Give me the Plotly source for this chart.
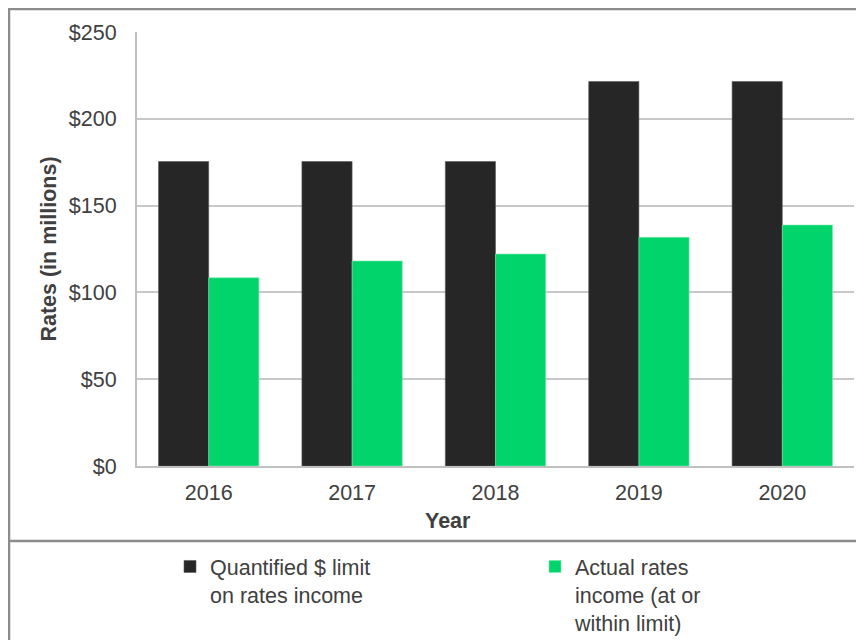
import plotly.graph_objects as go

years = ["2016", "2017", "2018", "2019", "2020"]
limit_values = [175.4, 175.4, 175.4, 221.5, 221.5]
actual_values = [108.4, 118.1, 122.1, 131.7, 138.8]
series_names = ["Quantified $ limit<br>on rates income", "Actual rates<br>income (at or<br>within limit)"]
y_tickvals = [0, 50, 100, 150, 200, 250]
y_ticktext = ["$0", "$50", "$100", "$150", "$200", "$250"]

FONT = "Liberation Sans, Arial, sans-serif"
TXT = "#404040"
FS = 21.5

fig = go.Figure()
fig.add_trace(go.Bar(x=years, y=limit_values, name=series_names[0], legend="legend",
                     marker=dict(color="#262626", line=dict(color="#5a5a5a", width=0.6))))
fig.add_trace(go.Bar(x=years, y=actual_values, name=series_names[1], legend="legend2",
                     marker=dict(color="#00d46a", line=dict(color="#7fe8b0", width=0.6))))

# page offset (browser body margin)
OFF = 8
W, H = 864 - OFF, 640 - OFF
# desired plot area in page pixels: x 137..854, y 32..466
L = 137 - OFF
T = 32 - OFF
R = W - (854 - OFF)
B = H - (466 - OFF)
pw, ph = W - L - R, H - T - B

def px2x(px):  # page px -> paper x
    return (px - OFF - L) / pw

def py2y(py):  # page px -> paper y
    return (H - B - (py - OFF)) / ph

leg_common = dict(valign="top", font=dict(size=FS, color=TXT), bgcolor="rgba(0,0,0,0)",
                  yanchor="top", xanchor="left", itemwidth=30)

fig.update_layout(
    width=W, height=H,
    margin=dict(l=L, r=R, t=T, b=B, autoexpand=False),
    paper_bgcolor="white", plot_bgcolor="white",
    barmode="group", bargap=0.3, bargroupgap=0,
    font=dict(family=FONT, size=FS, color=TXT),
    xaxis=dict(
        showline=True, linecolor="#c0c0c0", linewidth=2,
        ticks="", tickfont=dict(size=FS, color=TXT),
        ticklabelstandoff=6,
    ),
    yaxis=dict(
        range=[0, 250], tickvals=y_tickvals, ticktext=y_ticktext,
        showgrid=True, gridcolor="#c8c8c8", gridwidth=1.5,
        showline=True, linecolor="#c0c0c0", linewidth=2,
        zeroline=False, ticks="", tickfont=dict(size=FS, color=TXT),
        ticklabelstandoff=14,
        title=dict(text="<b>Rates (in millions)</b>", font=dict(size=FS, color=TXT), standoff=6),
    ),
    annotations=[
        dict(text="<b>Year</b>", xref="paper", yref="paper", x=px2x(448), y=py2y(521),
             xanchor="center", yanchor="middle", showarrow=False,
             font=dict(size=FS, color=TXT)),
    ],
    showlegend=True,
    legend=dict(x=px2x(170), y=py2y(546), **leg_common),
    legend2=dict(x=px2x(535), y=py2y(546), **leg_common),
    shapes=[
        dict(type="rect", xref="paper", yref="paper",
             x0=px2x(9), x1=px2x(880), y0=py2y(9), y1=py2y(660),
             line=dict(color="#8c8c8c", width=2.5), fillcolor="rgba(0,0,0,0)", layer="below"),
        dict(type="line", xref="paper", yref="paper",
             x0=px2x(9), x1=px2x(880), y0=py2y(541), y1=py2y(541),
             line=dict(color="#8c8c8c", width=2.5)),
    ],
)

fig.write_html("out.html")
